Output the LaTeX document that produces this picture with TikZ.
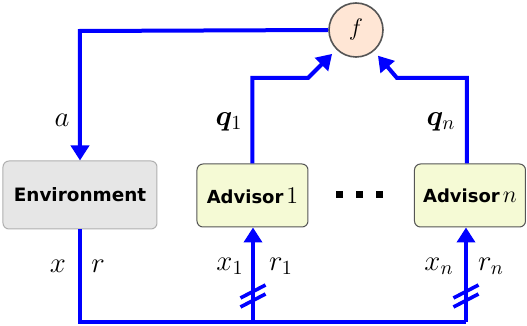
\documentclass[tikz,border=0pt]{standalone}
\usepackage{fontspec}
\usepackage{amsmath}
\usepackage{bm}
\newfontfamily\boxfont{DejaVu Sans}
\usetikzlibrary{arrows.meta}
\definecolor{envfill}{HTML}{E6E6E6}
\definecolor{envdraw}{HTML}{B0B0B0}
\definecolor{advfill}{HTML}{F5FAD5}
\definecolor{advdraw}{HTML}{555555}
\definecolor{ffill}{HTML}{FFE6D5}
\tikzset{
  conn/.style={draw=blue, line width=2pt, -{Triangle[width=9pt,length=7.5pt]}},
  wire/.style={draw=blue, line width=2pt},
  slash/.style={draw=blue, line width=1.8pt},
  envbox/.style={draw=envdraw, fill=envfill, rounded corners=3pt, line width=0.5pt,
    minimum width=77pt, minimum height=34pt, font=\boxfont\bfseries\fontsize{9.2}{11}\selectfont},
  advbox/.style={draw=advdraw, fill=advfill, rounded corners=3pt, line width=0.5pt,
    minimum width=55.5pt, minimum height=31.5pt, font=\boxfont\bfseries\fontsize{9}{11}\selectfont},
  fnode/.style={circle, draw=advdraw, fill=ffill, line width=0.8pt, minimum size=27pt, inner sep=0pt,
    font=\fontsize{12.5}{15}\selectfont},
  lbl/.style={font=\fontsize{14}{16}\selectfont, inner sep=0pt},
  dotsq/.style={fill=black, draw=none}
}
\begin{document}
\begin{tikzpicture}[x=0.5pt,y=-0.5pt]
\useasboundingbox (0,0) rectangle (527,326);
\node[fnode] (f) at (356,30) {$f$};
\node[envbox] (env) at (80,195) {Environment};
\node[advbox] (adv1) at (252.5,195.5) {Advisor\,{\fontsize{13}{15}\selectfont$1$}};
\node[advbox] (advn) at (470,195.5) {Advisor\,{\fontsize{13}{15}\selectfont$n$}};
% dots
\foreach \xx in {340,360,380} \fill[dotsq] (\xx-3.5,191.5) rectangle (\xx+3.5,198.5);
% coordinates
\coordinate (ta) at (80,31);
\coordinate (q1a) at (252.5,78);
\coordinate (q1b) at (308,78);
\coordinate (qna) at (467,78);
\coordinate (qnb) at (397,78);
\coordinate (bl) at (80,322);
\coordinate (b1) at (253,322);
\coordinate (bn) at (466,322);
% f to env
\draw[conn] (f.west) -- (ta) -- (env.north);
% advisors to f
\draw[conn, shorten >=3pt] (adv1.north) -- (q1a) -- (q1b) -- (f);
\draw[conn, shorten >=3pt] (adv1.north -| qna) -- (qna) -- (qnb) -- (f);
% bottom
\draw[wire] (env.south) -- (bl) -- (bn);
\draw[conn] (b1) -- (b1 |- adv1.south);
\draw[conn] (bn) -- (bn |- advn.south);
% slashes
\foreach \xx in {253,466} {
  \draw[slash] (\xx-12.5,298) -- (\xx+12.5,285);
  \draw[slash] (\xx-12.5,307) -- (\xx+12.5,294);
}
% labels
\node[lbl] (la) at (62,120) {$a$};
\node[lbl] (lq1) at (229,122) {$\bm{q}_1$};
\node[lbl] (lqn) at (441,122) {$\bm{q}_n$};
\node[lbl] (lx) at (58,266) {$x$};
\node[lbl] (lr) at (98,266) {$r$};
\node[lbl] (lx1) at (230,266) {$x_1$};
\node[lbl] (lr1) at (281,266) {$r_1$};
\node[lbl] (lxn) at (439,266) {$x_n$};
\node[lbl] (lrn) at (491,266) {$r_n$};
\end{tikzpicture}
\end{document}
